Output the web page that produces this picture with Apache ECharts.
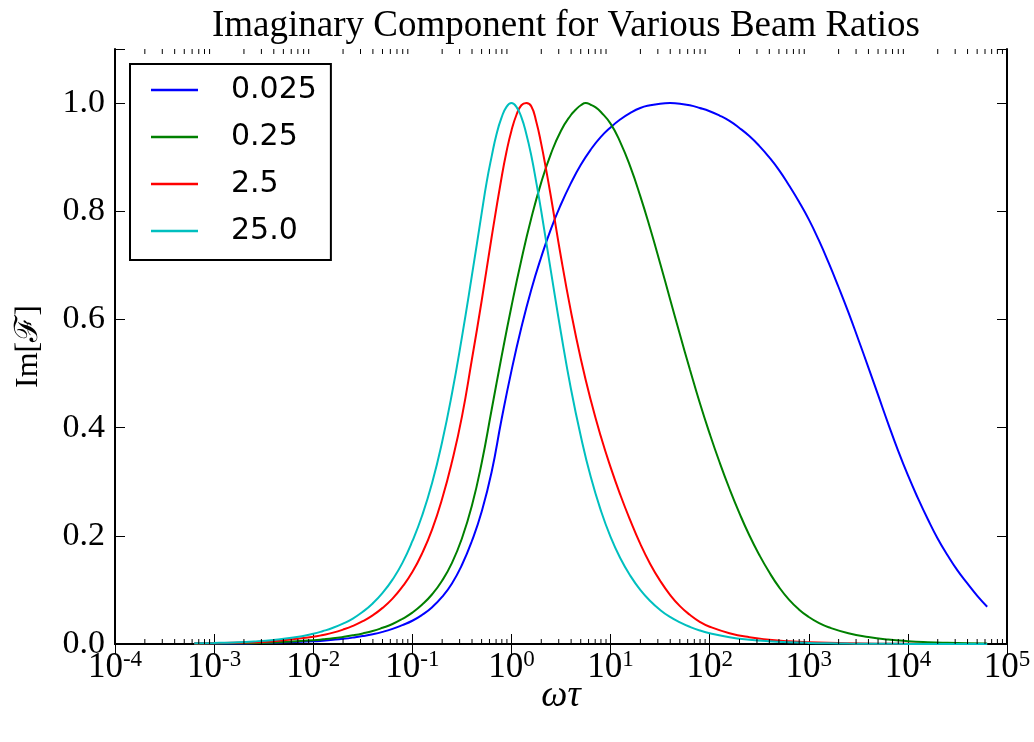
<!DOCTYPE html>
<html>
<head>
<meta charset="utf-8">
<script src="https://cdn.jsdelivr.net/npm/echarts@6/dist/echarts.min.js"></script>
<style>
  html, body { margin: 0; padding: 0; background: #fff; }
  #chart { width: 1034px; height: 742px; }
</style>
</head>
<body>
<div id="chart"></div>
<script>
// Beam ratios shown in the legend, with their line colours
const beamRatios = ['0.025', '0.25', '2.5', '25.0'];
const lineColors = ['#0000ff', '#008000', '#ff0000', '#00bfbf'];

// Decade exponents of the x ticks and the y tick step
const xDecades = [-4, -3, -2, -1, 0, 1, 2, 3, 4, 5];
const yStep = 0.2;

// log10(ωτ) sample positions and Im[F] for beam ratio 0.025
const exp0025 = [-3.2, -2.8, -2.4, -2.0, -1.9, -1.8, -1.7, -1.6, -1.5, -1.4, -1.3, -1.2, -1.1, -1.0, -0.9, -0.8, -0.7, -0.6, -0.5, -0.4, -0.3, -0.2, -0.1, 0.0, 0.1, 0.2, 0.3, 0.4, 0.5, 0.6, 0.7, 0.8, 0.9, 1.0, 1.1, 1.2, 1.3, 1.4, 1.5, 1.6, 1.7, 1.8, 1.9, 2.0, 2.1, 2.2, 2.3, 2.4, 2.5, 2.6, 2.7, 2.8, 2.9, 3.0, 3.1, 3.2, 3.3, 3.4, 3.5, 3.6, 3.7, 3.8, 3.9, 4.0, 4.1, 4.2, 4.3, 4.4, 4.5, 4.6, 4.7, 4.8];
const im0025 = [0.0004, 0.0009, 0.0021, 0.005, 0.0062, 0.0077, 0.0095, 0.0118, 0.0146, 0.018, 0.0224, 0.028, 0.035, 0.043, 0.054, 0.068, 0.087, 0.112, 0.146, 0.19, 0.245, 0.318, 0.415, 0.505, 0.585, 0.655, 0.715, 0.768, 0.813, 0.852, 0.886, 0.914, 0.937, 0.955, 0.97, 0.982, 0.991, 0.996, 0.999, 1.0, 0.999, 0.996, 0.991, 0.985, 0.977, 0.967, 0.954, 0.939, 0.921, 0.9, 0.876, 0.848, 0.818, 0.785, 0.747, 0.705, 0.66, 0.613, 0.563, 0.512, 0.46, 0.408, 0.358, 0.312, 0.27, 0.231, 0.195, 0.164, 0.136, 0.112, 0.089, 0.069];

// beam ratio 0.25
const exp025 = [-3.2, -2.8, -2.4, -2.0, -1.9, -1.8, -1.7, -1.6, -1.5, -1.4, -1.3, -1.2, -1.1, -1.0, -0.9, -0.8, -0.7, -0.6, -0.5, -0.4, -0.3, -0.2, -0.1, 0.0, 0.1, 0.2, 0.3, 0.4, 0.5, 0.6, 0.65, 0.7, 0.75, 0.8, 0.85, 0.9, 1.0, 1.1, 1.2, 1.3, 1.4, 1.5, 1.6, 1.7, 1.8, 1.9, 2.0, 2.1, 2.2, 2.3, 2.4, 2.5, 2.6, 2.7, 2.8, 2.9, 3.0, 3.1, 3.2, 3.4, 3.6, 3.8, 4.0, 4.2, 4.4, 4.6, 4.8];
const im025 = [0.0005, 0.0012, 0.0029, 0.007, 0.0086, 0.0105, 0.013, 0.016, 0.0196, 0.024, 0.03, 0.037, 0.0465, 0.058, 0.073, 0.092, 0.117, 0.15, 0.195, 0.255, 0.335, 0.433, 0.531, 0.624, 0.71, 0.787, 0.853, 0.907, 0.949, 0.978, 0.988, 0.996, 1.0, 0.997, 0.992, 0.984, 0.962, 0.927, 0.882, 0.828, 0.768, 0.704, 0.638, 0.572, 0.508, 0.446, 0.389, 0.336, 0.287, 0.242, 0.201, 0.165, 0.133, 0.105, 0.082, 0.064, 0.05, 0.039, 0.031, 0.02, 0.013, 0.0083, 0.0053, 0.0034, 0.0022, 0.0014, 0.0009];

// beam ratio 2.5
const exp25 = [-3.2, -2.8, -2.4, -2.0, -1.9, -1.8, -1.7, -1.6, -1.5, -1.4, -1.3, -1.2, -1.1, -1.0, -0.9, -0.8, -0.7, -0.6, -0.5, -0.4, -0.3, -0.2, -0.1, -0.05, 0.0, 0.05, 0.1, 0.15, 0.2, 0.25, 0.3, 0.35, 0.4, 0.5, 0.6, 0.7, 0.8, 0.9, 1.0, 1.1, 1.2, 1.3, 1.4, 1.5, 1.6, 1.7, 1.8, 1.9, 2.0, 2.2, 2.4, 2.6, 2.8, 3.0, 3.4, 3.8, 4.2, 4.8];
const im25 = [0.00085, 0.0021, 0.0053, 0.0134, 0.0168, 0.021, 0.0266, 0.0335, 0.0422, 0.053, 0.0668, 0.084, 0.106, 0.133, 0.168, 0.212, 0.268, 0.337, 0.42, 0.525, 0.635, 0.752, 0.862, 0.91, 0.949, 0.978, 0.996, 1.0, 0.994, 0.966, 0.925, 0.877, 0.825, 0.715, 0.615, 0.527, 0.451, 0.385, 0.327, 0.275, 0.228, 0.185, 0.148, 0.117, 0.091, 0.07, 0.054, 0.041, 0.032, 0.02, 0.0125, 0.008, 0.005, 0.0032, 0.0013, 0.0005, 0.0002, 0.00005];

// beam ratio 25.0
const exp250 = [-3.2, -3.0, -2.8, -2.6, -2.4, -2.2, -2.0, -1.9, -1.8, -1.7, -1.6, -1.5, -1.4, -1.3, -1.2, -1.1, -1.0, -0.9, -0.8, -0.7, -0.6, -0.5, -0.4, -0.3, -0.25, -0.2, -0.15, -0.1, -0.05, 0.0, 0.05, 0.1, 0.15, 0.2, 0.25, 0.3, 0.4, 0.5, 0.6, 0.7, 0.8, 0.9, 1.0, 1.1, 1.2, 1.3, 1.4, 1.5, 1.6, 1.7, 1.8, 1.9, 2.0, 2.2, 2.4, 2.6, 2.8, 3.0, 3.2, 3.4, 3.6, 3.8, 4.0, 4.4, 4.8];
const im250 = [0.0012, 0.0019, 0.003, 0.0048, 0.0076, 0.012, 0.019, 0.024, 0.03, 0.0376, 0.047, 0.0595, 0.075, 0.0945, 0.119, 0.15, 0.19, 0.238, 0.298, 0.373, 0.463, 0.567, 0.68, 0.797, 0.854, 0.901, 0.943, 0.973, 0.993, 1.0, 0.993, 0.974, 0.943, 0.903, 0.854, 0.801, 0.687, 0.575, 0.472, 0.384, 0.309, 0.248, 0.198, 0.158, 0.126, 0.1, 0.0795, 0.063, 0.05, 0.04, 0.0317, 0.025, 0.02, 0.0126, 0.008, 0.005, 0.0032, 0.002, 0.0013, 0.0008, 0.0005, 0.0003, 0.0002, 0.0001, 0.00003];

const curves = [[exp0025, im0025], [exp025, im025], [exp25, im25], [exp250, im250]];

// minor tick positions 2..9 × 10^k inside each decade
const minorTicks = [];
for (let k = xDecades[0]; k < xDecades[xDecades.length - 1]; k++) {
  for (let m = 2; m <= 9; m++) minorTicks.push([m * Math.pow(10, k), 0]);
}

const serif = "'Liberation Serif', 'DejaVu Serif', serif";
const yMax = 1.1;

const commonX = {
  type: 'log',
  logBase: 10,
  min: Math.pow(10, xDecades[0]),
  max: Math.pow(10, xDecades[xDecades.length - 1]),
  splitLine: { show: false },
  axisLine: { show: true, lineStyle: { color: '#000', width: 2 } },
  axisTick: { show: true, inside: true, length: 10, lineStyle: { color: '#000', width: 1 } }
};
const commonY = {
  type: 'value',
  min: 0,
  max: yMax,
  interval: yStep,
  splitLine: { show: false },
  axisLine: { show: true, lineStyle: { color: '#000', width: 2 } },
  axisTick: { show: true, inside: true, length: 10, lineStyle: { color: '#000', width: 1 } }
};

const option = {
  backgroundColor: '#fff',
  animation: false,
  title: {
    text: 'Imaginary Component for Various Beam Ratios',
    left: 561,
    textAlign: 'center',
    top: 3,
    textStyle: { fontFamily: serif, fontSize: 37, fontWeight: 'normal', color: '#000' }
  },
  grid: { left: 115, right: 27, top: 49, bottom: 98, containLabel: false },
  legend: {
    data: beamRatios,
    orient: 'vertical',
    left: 130,
    top: 64,
    padding: [11, 14, 14, 21],
    itemGap: 17,
    itemWidth: 47,
    itemHeight: 2.5,
    icon: 'rect',
    borderColor: '#000',
    borderWidth: 2,
    backgroundColor: '#fff',
    textStyle: {
      fontFamily: "'DejaVu Sans', sans-serif",
      fontSize: 30,
      lineHeight: 30,
      color: '#000',
      padding: [0, 0, 0, 28]
    }
  },
  xAxis: [
    Object.assign({}, commonX, {
      position: 'bottom',
      name: 'ωτ',
      nameLocation: 'middle',
      nameGap: 34,
      nameMoveOverlap: false,
      nameTextStyle: { fontFamily: serif, fontStyle: 'italic', fontSize: 37, color: '#000' },
      axisLabel: {
        margin: 4,
        showMinLabel: true,
        showMaxLabel: true,
        formatter: v => '{b|10}{s|' + Math.round(Math.log10(v)) + '}',
        rich: {
          b: { fontFamily: serif, fontSize: 35, color: '#000', verticalAlign: 'bottom' },
          s: { fontFamily: serif, fontSize: 23, color: '#000', verticalAlign: 'bottom', padding: [0, 0, 14, 0] }
        }
      }
    }),
    Object.assign({}, commonX, { position: 'top', axisLabel: { show: false } })
  ],
  yAxis: [
    Object.assign({}, commonY, {
      position: 'left',
      name: 'Im[ℱ]',
      nameLocation: 'middle',
      nameRotate: 90,
      nameGap: 70,
      nameMoveOverlap: false,
      nameTextStyle: { fontFamily: serif, fontSize: 32, color: '#000' },
      axisLabel: {
        margin: 10,
        fontFamily: serif,
        fontSize: 34,
        color: '#000',
        formatter: v => (v > 1.05 ? '' : v.toFixed(1))
      }
    }),
    Object.assign({}, commonY, { position: 'right', axisLabel: { show: false } })
  ],
  series: curves.map((c, i) => ({
    name: beamRatios[i],
    type: 'line',
    xAxisIndex: 0,
    yAxisIndex: 0,
    data: c[0].map((e, j) => [Math.pow(10, e), c[1][j]]),
    showSymbol: false,
    smooth: 0.5,
    lineStyle: { color: lineColors[i], width: 2 },
    itemStyle: { color: lineColors[i] },
    z: 3
  })).concat([{
    type: 'custom',
    silent: true,
    xAxisIndex: 0,
    yAxisIndex: 0,
    data: minorTicks,
    encode: { x: 0, y: 1 },
    z: 4,
    renderItem: (params, api) => {
      const v = api.value(0);
      const b = api.coord([v, 0]);
      const t = api.coord([v, yMax]);
      return {
        type: 'group',
        children: [
          { type: 'line', shape: { x1: b[0], y1: b[1], x2: b[0], y2: b[1] - 5 }, style: { stroke: '#000', lineWidth: 1 } },
          { type: 'line', shape: { x1: t[0], y1: t[1], x2: t[0], y2: t[1] + 5 }, style: { stroke: '#000', lineWidth: 1 } }
        ]
      };
    }
  }])
};

const chart = echarts.init(document.getElementById('chart'), null, { renderer: 'canvas' });
chart.setOption(option);
</script>
</body>
</html>
